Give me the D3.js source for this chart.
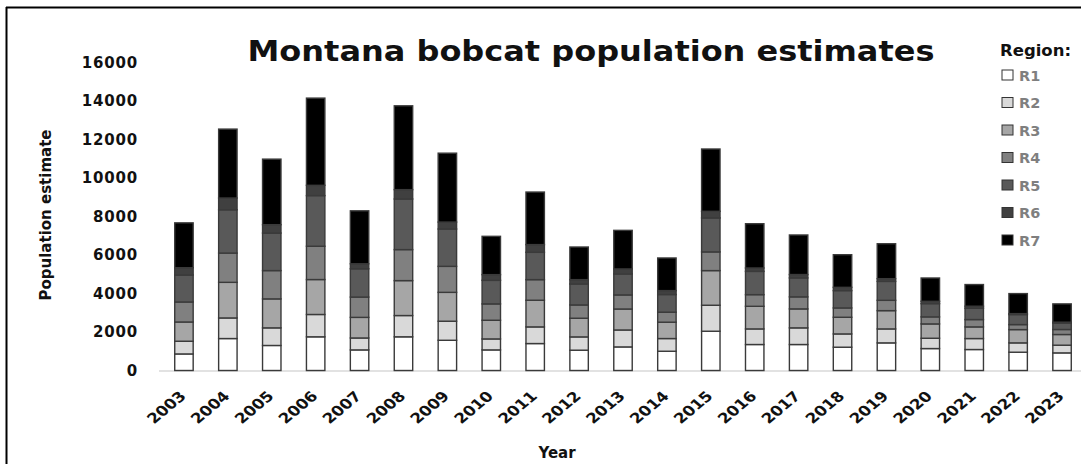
<!DOCTYPE html>
<html>
<head>
<meta charset="utf-8">
<script src="https://cdn.jsdelivr.net/npm/d3@7"></script>
<style>
  html, body { margin: 0; padding: 0; background: #fff; }
  svg { display: block; }
  text { font-family: "DejaVu Sans", Verdana, sans-serif; }
</style>
</head>
<body>
<svg id="chart" width="1081" height="464"></svg>
<script>
const years = ["2003","2004","2005","2006","2007","2008","2009","2010","2011","2012","2013","2014","2015","2016","2017","2018","2019","2020","2021","2022","2023"];
const regions = ["R1","R2","R3","R4","R5","R6","R7"];
const R1 = [860,1660,1300,1750,1070,1750,1570,1070,1400,1055,1225,1000,2040,1350,1350,1210,1435,1140,1090,950,915];
const R2 = [660,1070,915,1160,620,1105,990,570,865,690,880,660,1350,810,865,690,725,535,570,485,400];
const R3 = [1000,1850,1505,1815,1070,1815,1500,970,1385,970,1090,850,1800,1175,985,865,950,745,605,690,555];
const R4 = [1040,1520,1470,1730,1055,1610,1350,850,1070,690,730,520,970,605,625,485,535,365,380,260,260];
const R5 = [1400,2250,1950,2630,1470,2630,1940,1225,1420,1090,1090,915,1765,1210,985,900,985,690,590,520,330];
const R6 = [380,610,435,535,260,485,360,295,400,225,260,205,345,175,175,170,140,120,105,50,50];
const R7 = [2330,3580,3405,4530,2750,4355,3580,1990,2730,1695,2005,1695,3236,2300,2055,1695,1815,1210,1125,1040,950];
const yTicks = [0,2000,4000,6000,8000,10000,12000,14000,16000];
const colors = ["#ffffff","#d9d9d9","#a6a6a6","#808080","#595959","#404040","#000000"];

const series = [R1,R2,R3,R4,R5,R6,R7];
const table = years.map((y, i) => {
  const row = { year: y };
  regions.forEach((r, k) => row[r] = series[k][i]);
  return row;
});

const svg = d3.select("#chart");

// frame
svg.append("line").attr("x1", 6.5).attr("x2", 6.5).attr("y1", 7).attr("y2", 464)
  .attr("stroke", "#000").attr("stroke-width", 2);
svg.append("line").attr("x1", 6).attr("x2", 1081).attr("y1", 7.5).attr("y2", 7.5)
  .attr("stroke", "#000").attr("stroke-width", 2);

const x = d3.scaleBand().domain(years).range([162, 1084]).paddingInner(0.58).paddingOuter(0.29);
const y = d3.scaleLinear().domain([0, 16000]).range([370.5, 62.5]);

const stack = d3.stack().keys(regions)(table);
const color = d3.scaleOrdinal().domain(regions).range(colors);

// x-axis line
svg.append("line").attr("x1", 159).attr("x2", 1081).attr("y1", 371).attr("y2", 371)
  .attr("stroke", "#d9d9d9").attr("stroke-width", 1.5);

// bars
svg.append("g").selectAll("g").data(stack).join("g")
  .attr("fill", d => color(d.key))
  .selectAll("rect").data(d => d).join("rect")
  .attr("x", d => x(d.data.year))
  .attr("width", x.bandwidth())
  .attr("y", d => y(d[1]))
  .attr("height", d => y(d[0]) - y(d[1]))
  .attr("stroke", "#3a3a3a")
  .attr("stroke-width", 1.4);

// y axis
const yAxis = d3.axisLeft(y).tickValues(yTicks).tickSize(0).tickPadding(0).tickFormat(d3.format("d"));
const gy = svg.append("g").attr("transform", "translate(138,0)").call(yAxis);
gy.select(".domain").remove();
gy.selectAll("text").attr("font-size", 15).attr("font-weight", "bold").attr("fill", "#111")
  .attr("letter-spacing", 0.8).attr("font-family", "DejaVu Sans, sans-serif");

// x axis labels
const xAxis = d3.axisBottom(x).tickSize(0).tickPadding(0);
const gx = svg.append("g").attr("transform", "translate(0,371)").call(xAxis);
gx.select(".domain").remove();
gx.selectAll("text")
  .attr("font-size", 14).attr("font-weight", "bold").attr("fill", "#111")
  .attr("font-family", "DejaVu Sans, sans-serif")
  .attr("text-anchor", "end")
  .attr("dy", null).attr("y", 0)
  .attr("transform", "translate(3,26) scale(1.2,1) rotate(-45)");

// title
svg.append("text").attr("x", 591).attr("y", 61).attr("text-anchor", "middle")
  .attr("font-size", 28).attr("font-weight", "bold").attr("fill", "#111")
  .attr("textLength", 687).attr("lengthAdjust", "spacingAndGlyphs")
  .text("Montana bobcat population estimates");

// axis titles
svg.append("text").attr("transform", "translate(51,215) rotate(-90)")
  .attr("text-anchor", "middle").attr("font-size", 15).attr("font-weight", "bold")
  .attr("font-family", "Liberation Sans Narrow, Roboto Condensed, Liberation Sans, sans-serif")
  .attr("fill", "#111").text("Population estimate");
svg.append("text").attr("x", 557).attr("y", 458).attr("text-anchor", "middle")
  .attr("font-size", 15).attr("font-weight", "bold")
  .attr("font-family", "Liberation Sans Narrow, Roboto Condensed, Liberation Sans, sans-serif")
  .attr("fill", "#111").text("Year");

// legend
const lg = svg.append("g");
lg.append("text").attr("x", 1000).attr("y", 56).attr("font-size", 16.5).attr("font-weight", "bold")
  .attr("fill", "#111").text("Region:");
const legY = d3.scalePoint().domain(regions).range([75, 240]);
const items = lg.selectAll("g.item").data(regions).join("g").attr("class", "item")
  .attr("transform", d => `translate(1002,${legY(d)})`);
items.append("rect").attr("x", 0).attr("y", -5).attr("width", 11).attr("height", 10)
  .attr("fill", d => color(d)).attr("stroke", "#333").attr("stroke-width", 1);
items.append("text").attr("x", 17).attr("y", 5.5).attr("font-size", 14.5).attr("font-weight", "bold")
  .attr("fill", "#7f7f7f").text(d => d);
</script>
</body>
</html>
